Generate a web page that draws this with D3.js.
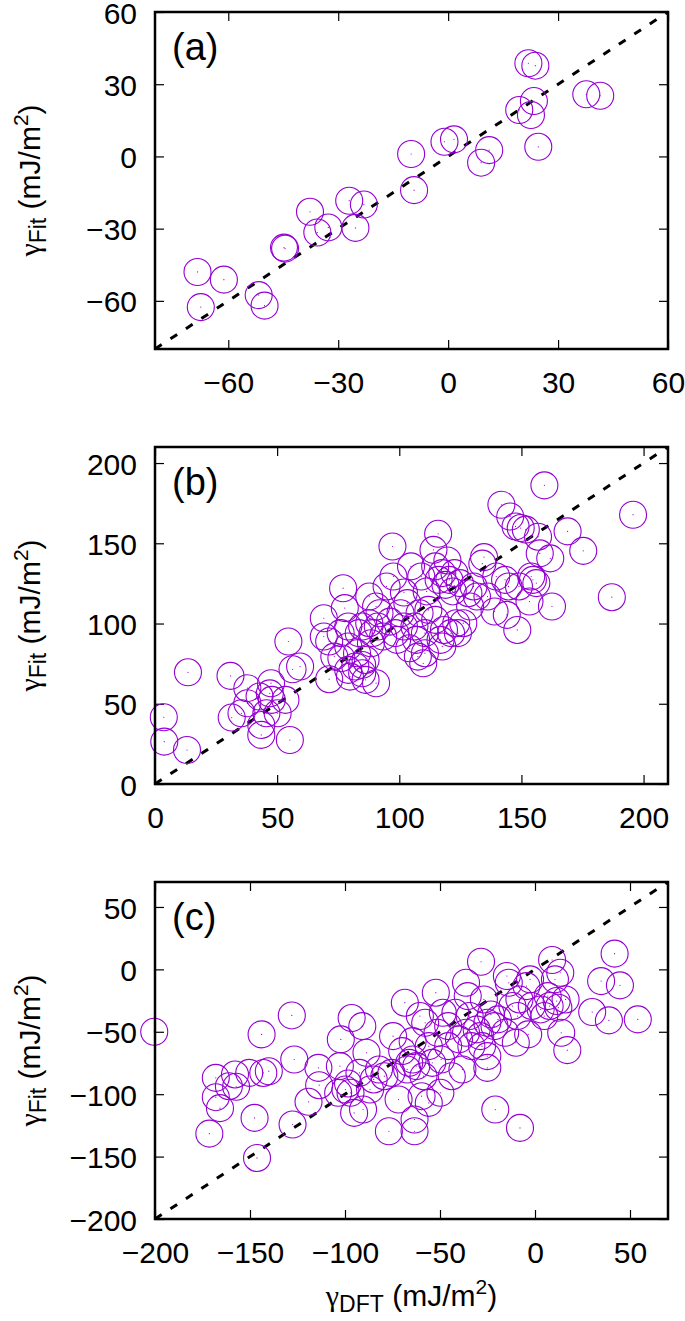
<!DOCTYPE html>
<html>
<head>
<meta charset="utf-8">
<script src="https://cdn.jsdelivr.net/npm/d3@7"></script>
<style>
  body { margin: 0; background: #fff; }
  text { font-family: "Liberation Sans", Arial, Helvetica, sans-serif; }
</style>
</head>
<body>
<svg id="fig" width="685" height="1321"></svg>
<script>
// panel (a)
const aDft = [-68.4,-61.2,-67.5,-51.7,-50.1,-44.8,-44.5,-37.7,-35.7,-32.7,-27.0,-23.0,-25.3,-9.3,-10.1,-1.0,1.6,9.0,11.2,19.4,23.4,22.6,21.9,23.8,24.6,37.7,41.5];
const aFit = [-48.0,-51.2,-62.6,-57.6,-62.0,-37.9,-38.3,-23.0,-31.6,-29.5,-18.4,-20.0,-29.7,-14.0,1.0,6.1,7.1,-2.6,2.6,19.3,23.0,17.2,38.7,37.7,4.0,25.8,25.2];
const aTicks = [-60, -30, 0, 30, 60];

// panel (b)
const bDft = [3.6,3.8,13.1,13.5,30.9,31.4,35.4,37.8,42.8,43.5,43.5,45.6,47.5,47.0,50.2,53.4,55.2,54.6,56.3,59.4,
  71.3,69.1,69.1,71.3,77.0,77.7,76.3,79.1,79.8,76.0,79.1,82.7,83.4,84.8,86.2,87.7,87.7,88.4,90.5,91.2,
  91.9,93.4,94.8,96.2,97.2,97.6,98.4,100.5,101.9,103.3,104.1,104.8,106.2,106.9,107.6,108.3,109.0,109.8,110.5,111.2,
  111.9,114.0,114.7,114.7,115.9,116.1,116.9,117.6,117.6,118.3,118.9,119.7,120.5,121.2,121.9,122.6,123.3,124.0,124.8,126.2,
  128.3,130.4,131.8,134.0,134.7,139.0,139.7,141.8,143.3,144.0,145.4,148.3,147.6,149.0,149.7,153.3,154.0,154.7,156.8,157.5,
  159.4,161.8,162.5,168.9,175.3,187.0,195.7,
  73.4,79.1,84.8,89.1,90.5,101.9,99.1,110.5,129.0,136.1,144.7,151.8,156.1,47.8,37.8,84.8,82.0,86.2];
const bFit = [41.6,26.4,21.2,69.6,67.4,41.4,44.1,59.7,54.5,36.8,30.6,44.1,62.8,56.5,44.1,52.4,27.4,88.8,71.5,73.2,
  65.3,103.3,91.9,88.8,122.0,109.6,78.4,71.1,66.9,94.0,98.1,81.5,94.0,69.0,77.3,100.2,116.8,87.7,62.8,98.1,
  106.4,91.9,123.1,101.2,148.0,129.3,94.0,106.4,98.1,112.7,84.6,135.6,98.1,89.8,79.4,106.4,129.3,75.2,94.0,120.0,
  108.5,145.9,135.6,102.3,155.9,127.2,89.8,85.7,131.4,96.0,124.1,139.3,127.2,94.0,120.0,131.4,100.2,94.0,125.2,100.2,
  118.9,123.1,116.8,137.3,141.4,107.5,129.3,174.0,127.2,105.4,166.7,96.0,160.5,123.1,159.5,113.7,129.3,127.2,154.1,143.7,
  186.1,140.6,110.6,157.4,145.3,116.4,167.8,
  79.4,85.7,98.1,94.0,110.6,119.3,89.8,81.5,110.6,116.8,123.1,158.5,125.2,52.4,50.3,74.2,73.2,64.9];
const bTicks = [0, 50, 100, 150, 200];

// panel (c)
const cDft = [-200.4,-171.4,-168.0,-165.8,-168.0,-157.9,-157.3,-150.4,-147.6,-146.3,-143.9,-140.1,-143.0,-128.0,-126.7,-127.6,-119.2,-114.0,-113.6,-102.2,
  -102.7,-98.4,-97.1,-96.5,-95.2,-90.9,-90.5,-92.4,-88.7,-86.8,-84.9,-76.9,-74.7,-75.6,-71.8,-69.9,-68.5,-66.2,-64.4,-63.4,
  -63.4,-62.5,-60.6,-59.7,-58.7,-55.9,-54.1,-52.2,-51.3,-49.8,-49.4,-48.5,-45.7,-43.8,-41.9,-40.0,-38.2,-36.3,-35.4,-34.4,
  -33.5,-30.7,-28.4,-27.9,-26.9,-25.1,-25.1,-23.2,-21.3,-25.1,-20.9,-15.7,-14.8,-13.8,-11.9,-10.1,-9.2,-7.9,-4.5,-3.6,
  -2.6,-1.7,3.0,4.9,7.7,9.0,10.5,11.4,13.3,13.8,16.1,17.0,12.3,30.1,34.8,38.9,41.9,44.7,54.1,
  -103.6,-99.8,-64.4,-67.3,-79.3,-82.1,-55.9,-57.8,-45.7,-36.3,-28.8,-19.5,-8.2,6.7,-161.1];
const cFit = [-50.0,-131.6,-102.4,-111.2,-86.9,-84.2,-94.1,-82.9,-119.0,-151.1,-52.1,-81.6,-83.0,-36.9,-72.2,-124.3,-106.1,-78.9,-92.8,-56.1,
  -77.5,-91.4,-98.9,-39.0,-115.0,-45.5,-112.3,-82.9,-66.8,-96.3,-88.2,-129.7,-53.5,-82.9,-104.3,-65.5,-26.7,-74.9,-57.5,-129.7,
  -120.3,-77.5,-37.4,-101.6,-85.6,-107.0,-74.9,-18.7,-50.8,-98.9,-72.2,-34.8,-45.5,-85.6,-34.8,-56.1,-80.2,-10.7,-21.4,-37.4,
  -61.5,-48.1,6.1,-61.5,-24.1,-42.8,-69.5,-36.1,-45.5,-78.9,-112.3,-50.8,-5.3,-10.7,-29.4,-58.8,-37.4,-127.0,-13.4,-52.1,
  -8.0,-29.4,-32.1,-37.4,-29.4,7.5,-8.0,-25.4,-2.7,-50.8,-24.1,-64.7,-30.7,-34.2,-9.4,-40.9,12.6,-12.8,-40.1,
  -98.9,-96.3,-72.2,-80.2,-85.6,-80.2,-61.5,-42.8,-61.5,-50.8,-53.5,-40.1,-24.1,-21.4,-93.6];
const cTicks = [-200, -150, -100, -50, 0, 50];

const panels = [
  { tag: "(a)", dft: aDft, fit: aFit, domain: [-80, 60], ticks: aTicks, top: 12 },
  { tag: "(b)", dft: bDft, fit: bFit, domain: [0, 210], ticks: bTicks, top: 447 },
  { tag: "(c)", dft: cDft, fit: cFit, domain: [-200, 70], ticks: cTicks, top: 882 }
];

const left = 155, right = 668, ph = 337;
const violet = "#9400d3";
const fmt = d => d < 0 ? "\u2212" + Math.abs(d) : String(d);

const svg = d3.select("#fig");

panels.forEach((p, i) => {
  const x = d3.scaleLinear().domain(p.domain).range([left, right]);
  const y = d3.scaleLinear().domain(p.domain).range([p.top + ph, p.top]);
  const g = svg.append("g");

  // ticks on all four sides, pointing inward
  const styleAxis = sel => {
    sel.select(".domain").remove();
    sel.selectAll(".tick line").attr("stroke", "#000").attr("stroke-width", 1.2);
    sel.selectAll(".tick text").attr("font-size", 30).attr("fill", "#000")
      .style("font-family", '"Liberation Sans", Arial, sans-serif');
  };
  g.append("g").attr("transform", `translate(0,${p.top + ph})`)
    .call(d3.axisBottom(x).tickValues(p.ticks).tickSize(-9).tickPadding(23).tickFormat(fmt))
    .call(styleAxis);
  g.append("g").attr("transform", `translate(0,${p.top})`)
    .call(d3.axisTop(x).tickValues(p.ticks).tickSize(-9).tickFormat(""))
    .call(styleAxis);
  g.append("g").attr("transform", `translate(${left},0)`)
    .call(d3.axisLeft(y).tickValues(p.ticks).tickSize(-9).tickPadding(18).tickFormat(fmt))
    .call(styleAxis)
    .selectAll(".tick text").attr("dy", "0.37em");
  g.append("g").attr("transform", `translate(${right},0)`)
    .call(d3.axisRight(y).tickValues(p.ticks).tickSize(-9).tickFormat(""))
    .call(styleAxis);

  // y = x reference line
  g.append("line")
    .attr("x1", x(p.domain[0])).attr("y1", y(p.domain[0]))
    .attr("x2", x(p.domain[1])).attr("y2", y(p.domain[1]))
    .attr("stroke", "#000").attr("stroke-width", 3)
    .attr("stroke-dasharray", "8,10.5");

  const pts = p.dft.map((v, k) => [v, p.fit[k]]);
  g.append("g").selectAll("circle").data(pts).join("circle")
    .attr("cx", d => x(d[0])).attr("cy", d => y(d[1])).attr("r", 13.5)
    .attr("fill", "none").attr("stroke", violet).attr("stroke-width", 1.1);
  g.append("g").selectAll("circle").data(pts).join("circle")
    .attr("cx", d => x(d[0])).attr("cy", d => y(d[1])).attr("r", 0.6)
    .attr("fill", violet);

  // frame
  g.append("rect")
    .attr("x", left).attr("y", p.top).attr("width", right - left).attr("height", ph)
    .attr("fill", "none").attr("stroke", "#000").attr("stroke-width", 2.5);

  g.append("text").attr("x", 172).attr("y", p.top + 48)
    .attr("font-size", 38).text(p.tag);

  // y label
  const yl = g.append("text")
    .attr("transform", `translate(40,${p.top + ph / 2}) rotate(-90)`)
    .attr("text-anchor", "middle").attr("font-size", 30);
  yl.append("tspan").style("font-family", '"Liberation Serif", serif').text("\u03b3");
  yl.append("tspan").attr("font-size", 23).attr("dy", 6).text("Fit");
  yl.append("tspan").attr("dy", -6).text(" (mJ/m");
  yl.append("tspan").attr("font-size", 21).attr("dy", -12).text("2");
  yl.append("tspan").attr("dy", 12).text(")");

  if (i === panels.length - 1) {
    const xl = g.append("text")
      .attr("x", (left + right) / 2).attr("y", 1306)
      .attr("text-anchor", "middle").attr("font-size", 30);
    xl.append("tspan").style("font-family", '"Liberation Serif", serif').text("\u03b3");
    xl.append("tspan").attr("font-size", 23).attr("dy", 6).text("DFT");
    xl.append("tspan").attr("dy", -6).text(" (mJ/m");
    xl.append("tspan").attr("font-size", 21).attr("dy", -12).text("2");
    xl.append("tspan").attr("dy", 12).text(")");
  }
});
</script>
</body>
</html>
